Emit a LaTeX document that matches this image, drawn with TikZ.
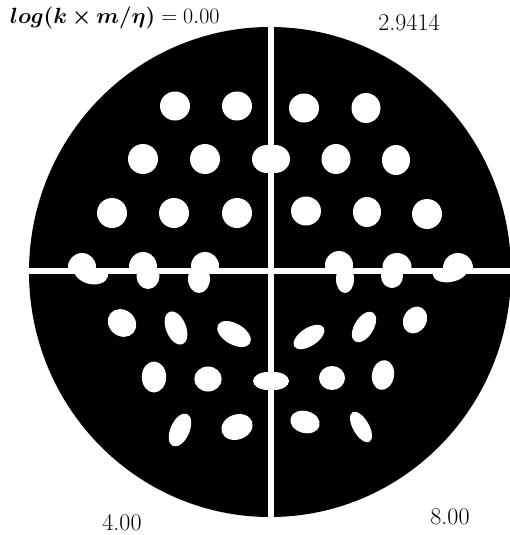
\documentclass[tikz,border=0pt]{standalone}
\usepackage{fix-cm}
\usepackage{bm}
\usepackage{fontspec}
\tikzset{
  blobfill/.style={fill=white},
  sepline/.style={draw=white, line width=6pt},
  lab/.style={font=\fontsize{24}{28}\selectfont, inner sep=0pt},
  toplab/.style={font=\fontsize{22}{26}\selectfont, inner sep=0pt}
}
% angle given clockwise in image coordinates
\newcommand\blob[5]{\fill[blobfill, shift={(#1,#2)}, rotate=-#5] (0,0) ellipse ({#3} and {#4});}
\begin{document}
\begin{tikzpicture}[x=1pt,y=-1pt]
\useasboundingbox (0,0) rectangle (509,535);
\fill[black] (270,272) ellipse (241 and 245);
% top-left quadrant
\begin{scope}
\clip (0,0) rectangle (271,271);
\blob{175}{106}{15}{14.5}{0}
\blob{237}{106}{15}{14.5}{0}
\blob{143}{159}{15}{15}{0}
\blob{205}{159}{15}{15}{0}
\blob{267}{159}{15}{14}{0}
\blob{112}{213}{15}{15}{0}
\blob{174}{213}{15}{15}{0}
\blob{237}{213}{15}{15}{0}
\blob{82}{267}{14}{14}{0}
\blob{143}{267}{14}{15}{0}
\blob{205}{266}{14}{14}{0}
\end{scope}
% top-right quadrant
\begin{scope}
\clip (271,0) rectangle (509,271);
\blob{304}{108}{15}{14.5}{0}
\blob{366}{108}{14.5}{15}{0}
\blob{275}{159}{15}{14}{0}
\blob{336}{159}{14.5}{15}{0}
\blob{396}{160}{14}{15}{0}
\blob{306}{211}{15}{14.5}{0}
\blob{367}{212}{14}{15}{0}
\blob{427}{214}{15}{15}{0}
\blob{339}{265}{14}{14}{0}
\blob{397}{267}{14.5}{14}{0}
\blob{458}{268}{15}{15}{0}
\end{scope}
% bottom-left quadrant
\begin{scope}
\clip (0,271) rectangle (271,535);
\blob{91}{272}{17.5}{12}{15}
\blob{148}{276}{11.5}{13}{0}
\blob{199}{279}{11}{14}{0}
\blob{122}{323}{15}{13}{40}
\blob{176}{328}{17.5}{10}{68}
\blob{234}{334}{18.5}{10.5}{30}
\blob{154}{377}{12.2}{15.5}{0}
\blob{208}{379}{13.7}{12.5}{0}
\blob{268}{381}{15}{9}{0}
\blob{180}{430}{17.5}{9.5}{-66}
\blob{237}{427}{16}{12.5}{-20}
\end{scope}
% bottom-right quadrant
\begin{scope}
\clip (271,271) rectangle (509,535);
\blob{345}{279}{9}{14}{0}
\blob{392}{276}{11}{12}{0}
\blob{450}{272}{17.5}{10}{-10}
\blob{309}{337}{17.5}{9}{-33}
\blob{364}{327}{17}{9.5}{-58}
\blob{415}{320}{14}{11.5}{-60}
\blob{274}{381}{15}{9}{0}
\blob{332}{378}{13}{12}{0}
\blob{383}{375}{11}{15}{10}
\blob{305}{422}{15}{11}{15}
\blob{361}{427}{17}{8}{60}
\end{scope}
% separating lines
\coordinate (vtop) at (271,24);
\coordinate (vbot) at (271,520);
\coordinate (hleft) at (27,271);
\coordinate (hright) at (511,271);
\draw[sepline] (vtop) -- (vbot);
\draw[sepline] (hleft) -- (hright);
% labels
\node[toplab, anchor=west] (lbl) at (10,18) {$\bm{log(k\times m/\eta)} = 0.00$};
\node[lab] (tr) at (409,23) {2.9414};
\node[lab] (bl) at (122,523) {4.00};
\node[lab] (br) at (450,517) {8.00};
\end{tikzpicture}
\end{document}
